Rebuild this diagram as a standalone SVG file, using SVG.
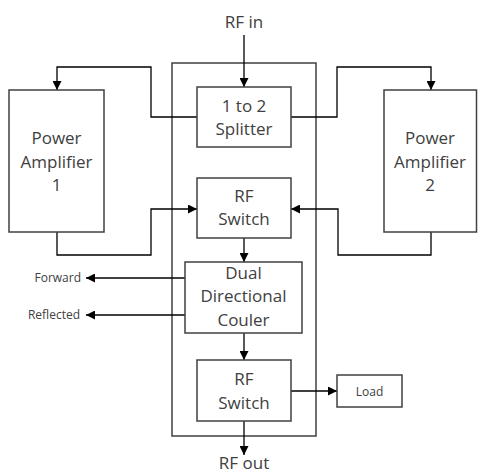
<svg xmlns="http://www.w3.org/2000/svg" width="478" height="474" viewBox="0 0 478 474">
<style>
.box{fill:#fff;stroke:#404040;stroke-width:1.5}
.frame{fill:none;stroke:#404040;stroke-width:1.5}
.c{fill:none;stroke:#000;stroke-width:1.3}
.t{font-family:"Open Sans","Liberation Sans",sans-serif;font-size:17px;fill:#404040;text-anchor:middle}
.s{font-family:"Open Sans","Liberation Sans",sans-serif;font-size:12px;fill:#404040}
</style>
<defs>
<marker id="ah" viewBox="0 0 10 10" refX="10" refY="5" markerWidth="9" markerHeight="9" markerUnits="userSpaceOnUse" orient="auto">
<path d="M0,0 L10,5 L0,10 Z" fill="#000"/>
</marker>
</defs>
<rect class="frame" x="172" y="63" width="144" height="373"/>
<g id="connectors">
<path class="c" d="M244,35 V87" marker-end="url(#ah)"/>
<path class="c" d="M197,117 H151 V67 H57 V90" marker-end="url(#ah)"/>
<path class="c" d="M291,117 H337 V67 H431 V90" marker-end="url(#ah)"/>
<path class="c" d="M57,232 V255 H151 V209 H197" marker-end="url(#ah)"/>
<path class="c" d="M431,232 V255 H338 V209 H291" marker-end="url(#ah)"/>
<path class="c" d="M244,238 V262" marker-end="url(#ah)"/>
<path class="c" d="M185,278 H86" marker-end="url(#ah)"/>
<path class="c" d="M185,315 H86" marker-end="url(#ah)"/>
<path class="c" d="M244,333 V360" marker-end="url(#ah)"/>
<path class="c" d="M291,391 H337" marker-end="url(#ah)"/>
<path class="c" d="M244,421 V455" marker-end="url(#ah)"/>
</g>
<text class="t" x="244" y="28">RF in</text>
<g id="splitter"><rect class="box" x="197" y="87" width="94" height="60"/><text class="t" x="244" y="112">1 to 2</text><text class="t" x="244" y="135">Splitter</text></g>
<g id="pa1"><rect class="box" x="9" y="90" width="95" height="142"/><text class="t" x="56.5" y="144">Power</text><text class="t" x="56.5" y="168">Amplifier</text><text class="t" x="56.5" y="191">1</text></g>
<g id="pa2"><rect class="box" x="384" y="90" width="92.5" height="142"/><text class="t" x="430" y="144">Power</text><text class="t" x="430" y="168">Amplifier</text><text class="t" x="430" y="191">2</text></g>
<g id="switch1"><rect class="box" x="197" y="178" width="94" height="60"/><text class="t" x="244" y="202">RF</text><text class="t" x="244" y="225">Switch</text></g>
<g id="coupler"><rect class="box" x="185" y="262" width="117" height="71"/><text class="t" x="243.5" y="279">Dual</text><text class="t" x="243.5" y="302">Directional</text><text class="t" x="243.5" y="326">Couler</text></g>
<g id="switch2"><rect class="box" x="197" y="360" width="94" height="61"/><text class="t" x="244" y="385">RF</text><text class="t" x="244" y="409">Switch</text></g>
<g id="load"><rect class="box" x="337" y="375" width="65" height="32"/><text class="s" x="369.5" y="396" text-anchor="middle">Load</text></g>
<text class="s" x="81" y="282" text-anchor="end">Forward</text>
<text class="s" x="80" y="319" text-anchor="end">Reflected</text>
<text class="t" x="244" y="469">RF out</text>
</svg>
